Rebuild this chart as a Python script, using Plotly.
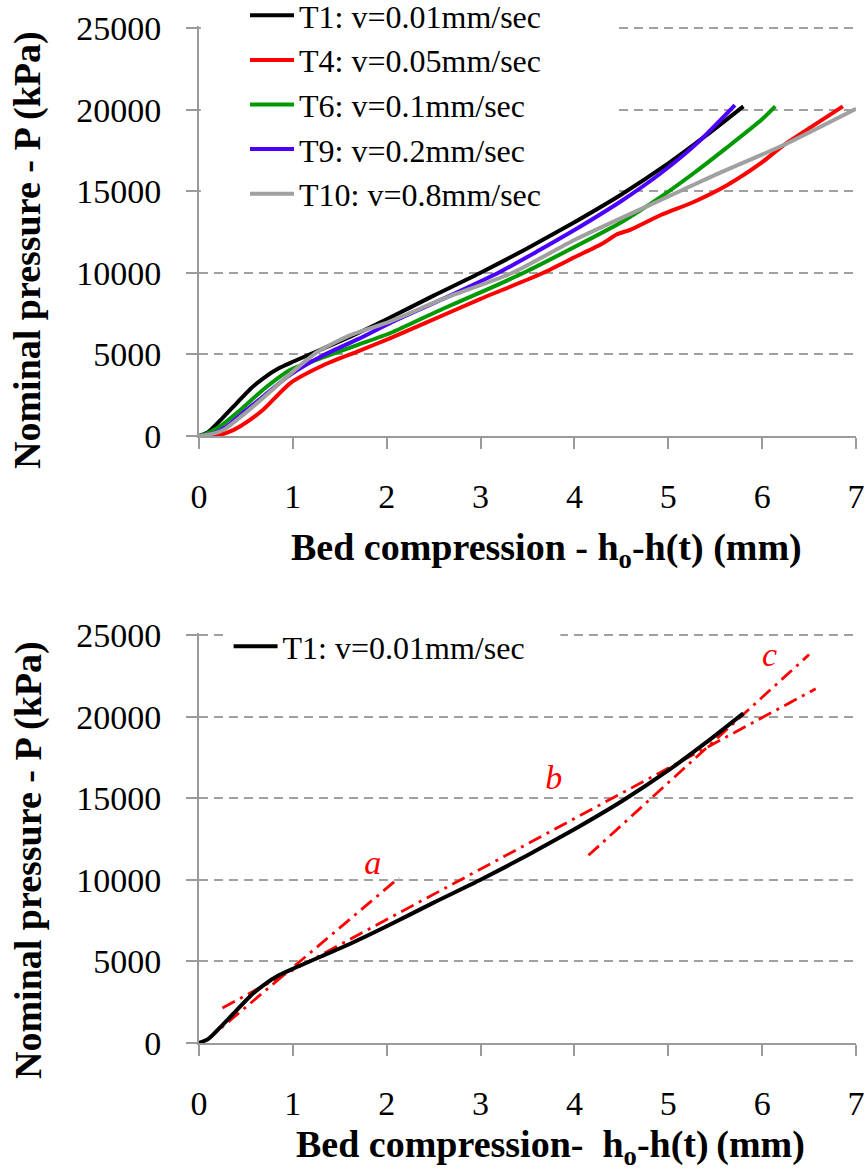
import plotly.graph_objects as go

# ---------------- data ----------------
t1_x = [0, 0.1, 0.25, 0.4, 0.55, 0.7, 0.85, 1.0, 1.3, 1.6, 2.0, 2.5, 3.0, 3.5, 4.0, 4.5, 5.0, 5.4, 5.8]
t1_p = [0, 250, 1100, 2000, 2900, 3600, 4150, 4550, 5300, 6050, 7150, 8600, 10000, 11500, 13100, 14800, 16700, 18400, 20200]

t4_x = [0, 0.15, 0.3, 0.44, 0.68, 0.97, 1.33, 1.7, 2.04, 2.6, 3.0, 3.67, 4.0, 4.3, 4.45, 4.6, 4.92, 5.27, 5.63, 5.99, 6.23, 6.52, 6.86]
t4_p = [0, 0, 200, 600, 1590, 3230, 4350, 5200, 6000, 7400, 8400, 10000, 10950, 11800, 12350, 12650, 13540, 14340, 15380, 16730, 17830, 18930, 20200]

t6_x = [0, 0.1, 0.25, 0.44, 0.68, 0.97, 1.33, 1.7, 2.04, 2.6, 3.0, 3.46, 4.0, 4.5, 4.92, 5.27, 5.63, 5.99, 6.14]
t6_p = [0, 200, 700, 1590, 2820, 4040, 4840, 5600, 6310, 7800, 8800, 10000, 11580, 13100, 14650, 16100, 17700, 19360, 20200]

t9_x = [0, 0.15, 0.3, 0.44, 0.68, 0.97, 1.33, 1.7, 2.04, 2.6, 3.19, 3.6, 4.0, 4.5, 4.92, 5.3, 5.71]
t9_p = [0, 150, 600, 1290, 2400, 3740, 4960, 5950, 6930, 8400, 10000, 11300, 12620, 14400, 16100, 17900, 20280]

t10_x = [0, 0.1, 0.26, 0.45, 0.68, 0.97, 1.26, 1.6, 2.04, 2.6, 3.34, 4.0, 4.92, 5.5, 6.23, 7.0]
t10_p = [0, 80, 370, 1200, 2320, 3800, 5150, 6150, 7030, 8400, 10000, 12010, 14460, 16000, 17830, 20050]

# fitted straight lines a, b, c (end points)
line_a_x = [-0.16, 2.13]
line_a_p = [-1000, 10120]
line_b_x = [0.25, 6.57]
line_b_p = [2150, 21700]
line_c_x = [4.15, 6.5]
line_c_p = [11500, 23800]

label_text = ["a", "b", "c"]
label_x = [1.85, 3.78, 6.08]
label_p = [10900, 16100, 23600]

series_names = ["T1: v=0.01mm/sec", "T4: v=0.05mm/sec", "T6: v=0.1mm/sec",
                "T9: v=0.2mm/sec", "T10: v=0.8mm/sec"]
series_colors = ["#000000", "#ff0000", "#009a00", "#4b00ff", "#a0a0a0"]

x_ticks = [0, 1, 2, 3, 4, 5, 6, 7]
x_tick_text = ["0", "1", "2", "3", "4", "5", "6", "7"]
y_ticks = [0, 5000, 10000, 15000, 20000, 25000]
y_tick_text = ["0", "5000", "10000", "15000", "20000", "25000"]

# ---------------- figure ----------------
FONT = "Liberation Serif, Times New Roman, serif"
W, H = 868, 1173
L, R = 199, 12
Y_TOP = 25120          # a hair above 25000 so the 25000 grid line is drawn
PX_PER_KPA = 408 / 25000
fig = go.Figure()

xs = [t1_x, t4_x, t6_x, t9_x, t10_x]
ps = [t1_p, t4_p, t6_p, t9_p, t10_p]
for name, col, x, p in zip(series_names, series_colors, xs, ps):
    fig.add_trace(go.Scatter(x=x, y=p, mode="lines", name=name,
                             line=dict(color=col, width=4, shape="spline", smoothing=0.6),
                             xaxis="x", yaxis="y", legend="legend"))

# bottom panel
for lx, lp in [(line_a_x, line_a_p), (line_b_x, line_b_p), (line_c_x, line_c_p)]:
    fig.add_trace(go.Scatter(x=lx, y=lp, mode="lines", showlegend=False,
                             line=dict(color="#ff0000", width=2.8, dash="14px,6px,3px,6px"),
                             xaxis="x2", yaxis="y2"))
fig.add_trace(go.Scatter(x=t1_x, y=t1_p, mode="lines", name=series_names[0],
                         line=dict(color="#000000", width=4, shape="spline", smoothing=0.6),
                         xaxis="x2", yaxis="y2", legend="legend2"))

fig.add_trace(go.Scatter(x=label_x, y=label_p, mode="text", text=label_text,
                         textfont=dict(family=FONT, size=34, color="#ff0000", style="italic"),
                         showlegend=False, xaxis="x2", yaxis="y2", hoverinfo="skip"))

def py(pix):
    return 1 - pix / H

extra = (Y_TOP - 25000) * PX_PER_KPA

axis_common = dict(range=[0, 7], tickvals=x_ticks, ticktext=x_tick_text,
                   showgrid=False, zeroline=False,
                   showline=True, linecolor="#9a9a9a", linewidth=2,
                   ticks="outside", ticklen=11, tickwidth=2, tickcolor="#9a9a9a",
                   tickfont=dict(family=FONT, size=34, color="#000000"),
                   ticklabelstandoff=18)
yaxis_common = dict(range=[0, Y_TOP], tickvals=y_ticks, ticktext=y_tick_text, showgrid=True,
                    gridcolor="#a0a0a0", gridwidth=2, griddash="9px,6px",
                    zeroline=False, showline=True, linecolor="#9a9a9a", linewidth=2,
                    ticks="outside", ticklen=11, tickwidth=2, tickcolor="#9a9a9a",
                    tickfont=dict(family=FONT, size=34, color="#000000"),
                    ticklabelstandoff=18)

fig.update_layout(
    width=W, height=H,
    font=dict(family=FONT, color="#000000"),
    margin=dict(l=L, r=R, t=0, b=0, autoexpand=False),
    paper_bgcolor="white", plot_bgcolor="white",
    xaxis=dict(domain=[0, 1], anchor="y", **axis_common),
    yaxis=dict(domain=[py(436), py(28 - extra)], anchor="x", **yaxis_common),
    xaxis2=dict(domain=[0, 1], anchor="y2", **axis_common),
    yaxis2=dict(domain=[py(1043), py(635 - extra)], anchor="x2", **yaxis_common),
    legend=dict(x=0.0, y=1.0 + 12 / H, xanchor="left", yanchor="top", bgcolor="rgba(0,0,0,0)",
                font=dict(family=FONT, size=32, color="#000000"),
                indentation=46, tracegroupgap=0, itemwidth=44),
    legend2=dict(x=0.045, y=py(619), xanchor="left", yanchor="top", bgcolor="rgba(0,0,0,0)",
                 font=dict(family=FONT, size=32, color="#000000"), itemwidth=44),
    showlegend=True,
)

# white legend backing boxes that hide the grid lines behind the legends
fig.add_shape(type="rect", xref="x", yref="y", x0=0.02, x1=4.42, y0=14800, y1=Y_TOP,
              fillcolor="white", line=dict(width=0), layer="above")
fig.add_shape(type="rect", xref="x2", yref="y2", x0=0.3, x1=3.85, y0=23000, y1=Y_TOP,
              fillcolor="white", line=dict(width=0), layer="above")

title_font = dict(family=FONT, size=38, color="#000000")
fig.add_annotation(text="<b>Bed compression - h<sub>o</sub>-h(t) (mm)</b>", xref="paper", yref="paper",
                   x=(546 - L) / (W - L - R), y=py(550), showarrow=False,
                   xanchor="center", yanchor="middle", font=title_font)
fig.add_annotation(text="<b>Bed compression-\u00a0 h<sub>o</sub>-h(t)\u2009(mm)</b>", xref="paper", yref="paper",
                   x=(550 - L) / (W - L - R), y=py(1147), showarrow=False,
                   xanchor="center", yanchor="middle", font=title_font)
fig.add_annotation(text="<b>Nominal pressure - P (kPa)</b>", xref="paper", yref="paper",
                   x=(28 - L) / (W - L - R), y=py(250), textangle=-90, showarrow=False,
                   xanchor="center", yanchor="middle", font=title_font)
fig.add_annotation(text="<b>Nominal pressure - P (kPa)</b>", xref="paper", yref="paper",
                   x=(28 - L) / (W - L - R), y=py(860), textangle=-90, showarrow=False,
                   xanchor="center", yanchor="middle", font=title_font)

fig.write_html("out.html")
